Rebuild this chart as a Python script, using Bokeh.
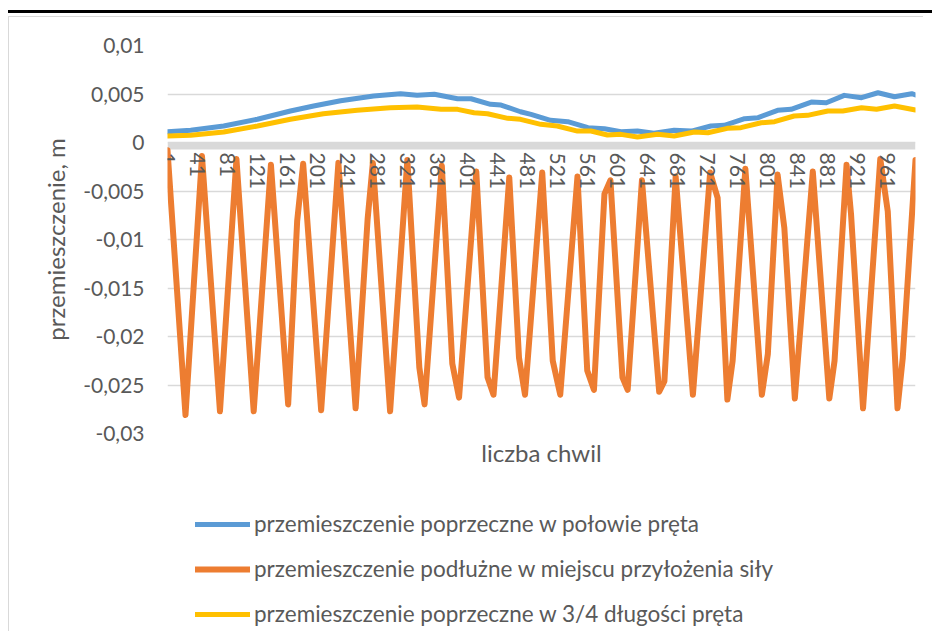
from bokeh.plotting import figure
from bokeh.models import (Range1d, FixedTicker, LinearAxis, Legend, LegendItem,
                          BoxAnnotation, Div, CustomJSTickFormatter)
from bokeh.layouts import column
from bokeh.embed import file_html
from bokeh.resources import INLINE

# ---------------- data ----------------
series_names = [
    "przemieszczenie poprzeczne w połowie pręta",
    "przemieszczenie podłużne w miejscu przyłożenia siły",
    "przemieszczenie poprzeczne w 3/4 długości pręta",
]

blue_x = [1, 32, 76, 121, 165, 196, 232, 276, 312, 334, 357, 388, 406, 432, 446, 472,
          486, 512, 535, 562, 584, 606, 628, 650, 677, 700, 726, 744, 771, 789, 815,
          833, 860, 880, 904, 927, 949, 971, 994, 999]
blue_y = [0.00111, 0.00126, 0.0017, 0.0024, 0.00325, 0.00376, 0.0043, 0.0048, 0.00503,
          0.00486, 0.00497, 0.00451, 0.00451, 0.00394, 0.00386, 0.00317, 0.0029, 0.00229,
          0.00215, 0.00153, 0.00142, 0.00111, 0.00118, 0.00095, 0.00126, 0.00118, 0.0017,
          0.00177, 0.00245, 0.00256, 0.00332, 0.00342, 0.00417, 0.0041, 0.00486, 0.00462,
          0.00513, 0.00472, 0.00503, 0.0049]

orange_x = [1, 25, 47, 71, 93, 116, 139, 162, 174, 182, 206, 229, 252, 268, 275, 298,
            321, 337, 344, 367, 381, 390, 413, 428, 436, 457, 470, 478, 501, 515, 525,
            548, 561, 570, 584, 592, 608, 615, 634, 657, 664, 679, 702, 725, 735, 748,
            755, 772, 794, 802, 815, 824, 838, 862, 884, 891, 907, 913, 929, 952, 962,
            975, 982, 999]
orange_y = [-0.0008, -0.0281, -0.0014, -0.0277, -0.0017, -0.0277, -0.0023, -0.0270,
            -0.0081, -0.0022, -0.0276, -0.0021, -0.0274, -0.0079, -0.0021, -0.0277,
            -0.0018, -0.0232, -0.0270, -0.0024, -0.0228, -0.0263, -0.0030, -0.0242,
            -0.0260, -0.0036, -0.0222, -0.0260, -0.0031, -0.0225, -0.0260, -0.0035,
            -0.0235, -0.0255, -0.0053, -0.0039, -0.0242, -0.0255, -0.0039, -0.0257,
            -0.0246, -0.0035, -0.0260, -0.0031, -0.0057, -0.0265, -0.0225, -0.0027,
            -0.0260, -0.0218, -0.0033, -0.0088, -0.0264, -0.0030, -0.0264, -0.0225,
            -0.0023, -0.0074, -0.0274, -0.0017, -0.0071, -0.0274, -0.0222, -0.0018]

yellow_x = [1, 32, 76, 121, 165, 209, 254, 298, 334, 366, 388, 410, 428, 455, 472, 499,
            521, 548, 566, 588, 606, 628, 655, 677, 704, 722, 748, 766, 793, 811, 837,
            855, 882, 902, 927, 947, 971, 999]
yellow_y = [0.00067, 0.00074, 0.00108, 0.0017, 0.00239, 0.00297, 0.00332, 0.00358,
            0.00366, 0.00342, 0.00342, 0.00307, 0.00297, 0.00249, 0.00239, 0.00187,
            0.0017, 0.00118, 0.00118, 0.00077, 0.00084, 0.00057, 0.00084, 0.00067,
            0.00108, 0.00101, 0.00146, 0.00153, 0.00204, 0.00215, 0.00273, 0.0028,
            0.00325, 0.00325, 0.00358, 0.00342, 0.00376, 0.00335]

x_ticks = [1, 41, 81, 121, 161, 201, 241, 281, 321, 361, 401, 441, 481, 521, 561, 601,
           641, 681, 721, 761, 801, 841, 881, 921, 961]
y_ticks = [-0.03, -0.025, -0.02, -0.015, -0.01, -0.005, 0.0, 0.005, 0.01]
y_tick_labels = ["-0,03", "-0,025", "-0,02", "-0,015", "-0,01", "-0,005", "0", "0,005", "0,01"]

x_title = "liczba chwil"
y_title = "przemieszczenie, m"

# ---------------- layout / styles ----------------
FONT = "Lato"
TXT = "#595959"
GRID = "#D9D9D9"
COLORS = ["#5B9BD5", "#ED7D31", "#FFC000"]
WIDTHS = [5, 6, 5]

FIG_W = 915
TOP, LEFT, RIGHT, BOTTOM = 28, 158, 9, 47
PLOT_PX = 388
MAIN_H = TOP + PLOT_PX + BOTTOM
LEG_H = 152
y_top, y_bot = y_ticks[-1], y_ticks[0]
PX = (y_top - y_bot) / PLOT_PX     # data units per pixel

p = figure(width=FIG_W, height=MAIN_H, output_backend="svg", toolbar_location=None,
           x_range=Range1d(1, 999), y_range=Range1d(y_bot, y_top),
           min_border_left=LEFT, min_border_right=RIGHT, min_border_top=TOP,
           min_border_bottom=BOTTOM, outline_line_color=None,
           background_fill_color="white", border_fill_color="white")
p.styles = {"border-top": "1px solid #D9D9D9", "border-left": "1px solid #D9D9D9"}

p.xgrid.visible = False
p.ygrid.grid_line_color = GRID
p.ygrid.grid_line_width = 1.3

# category axis crossing at zero
xa = p.xaxis[0]
xa.fixed_location = 0
xa.ticker = FixedTicker(ticks=x_ticks)
xa.major_label_orientation = "vertical"
xa.axis_line_color = None
xa.major_tick_line_color = None
xa.minor_tick_line_color = None
xa.major_tick_out = 0
xa.major_tick_in = 0
xa.minor_tick_out = 0
xa.major_label_standoff = 10
xa.major_label_text_font = FONT
xa.major_label_text_font_size = "21px"
xa.major_label_text_color = TXT

ya = p.yaxis[0]
ya.ticker = FixedTicker(ticks=y_ticks)
ya.formatter = CustomJSTickFormatter(
    args=dict(tvals=y_ticks, tlabs=y_tick_labels),
    code="let b=0; for (let i=0;i<tvals.length;i++){ if (Math.abs(tvals[i]-tick) < Math.abs(tvals[b]-tick)) b=i; } return tlabs[b];")
ya.axis_line_color = None
ya.major_tick_line_color = None
ya.minor_tick_line_color = None
ya.major_tick_out = 0
ya.major_tick_in = 0
ya.minor_tick_out = 0
ya.major_label_standoff = 23
ya.major_label_text_font = FONT
ya.major_label_text_font_size = "21px"
ya.major_label_text_color = TXT
ya.axis_label = y_title
ya.axis_label_standoff = 10
ya.axis_label_text_font = FONT
ya.axis_label_text_font_size = "24px"
ya.axis_label_text_font_style = "normal"
ya.axis_label_text_color = TXT

# axis that only carries the x title, below the value area
ta = LinearAxis(axis_label=x_title, ticker=FixedTicker(ticks=[]),
                axis_line_color=None, major_tick_line_color=None,
                minor_tick_line_color=None, major_tick_out=0, major_tick_in=0,
                minor_tick_out=0, major_label_text_font_size="0px",
                major_label_standoff=0, axis_label_standoff=4,
                axis_label_text_font=FONT, axis_label_text_font_size="24px",
                axis_label_text_font_style="normal", axis_label_text_color=TXT)
p.add_layout(ta, "below")

# thick grey horizontal axis line at zero
p.add_layout(BoxAnnotation(top=0, bottom=-7 * PX, fill_color=GRID, fill_alpha=1,
                           line_alpha=0, level="underlay"))

series = [(blue_x, blue_y), (orange_x, orange_y), (yellow_x, yellow_y)]
for (sx, sy), c, w in zip(series, COLORS, WIDTHS):
    p.line(sx, sy, line_color=c, line_width=w, line_join="round", line_cap="round")

# ---------------- legend area under the chart ----------------
# the same series are given to this panel only as legend keys; its y range lies
# above all values, so nothing of them is drawn here
pl = figure(width=FIG_W, height=LEG_H, output_backend="svg", toolbar_location=None,
            x_range=Range1d(1, 999), y_range=Range1d(1, 2), min_border=0,
            x_axis_location=None, y_axis_location=None, outline_line_color=None,
            background_fill_color="white", border_fill_color="white")
pl.styles = {"border-left": "1px solid #D9D9D9"}
pl.xgrid.visible = False
pl.ygrid.visible = False
keys = [pl.line(sx, sy, line_color=c, line_width=w, line_cap="round")
        for (sx, sy), c, w in zip(series, COLORS, WIDTHS)]
legend = Legend(items=[LegendItem(label=n, renderers=[k]) for n, k in zip(series_names, keys)],
                location=(28, 4), orientation="vertical",
                border_line_alpha=0, background_fill_alpha=0,
                label_text_font=FONT, label_text_font_size="22.5px",
                label_text_color=TXT, glyph_width=55, glyph_height=20,
                label_standoff=4, spacing=18, padding=0, margin=0)
pl.add_layout(legend)

top_line = Div(text="", width=924, height=3, margin=(2, 0, 3, 0),
               styles={"background-color": "black"})

layout = column(top_line, p, pl, spacing=0, margin=(8, 0, 0, 8))

open("out.html", "w").write(file_html(layout, INLINE))
